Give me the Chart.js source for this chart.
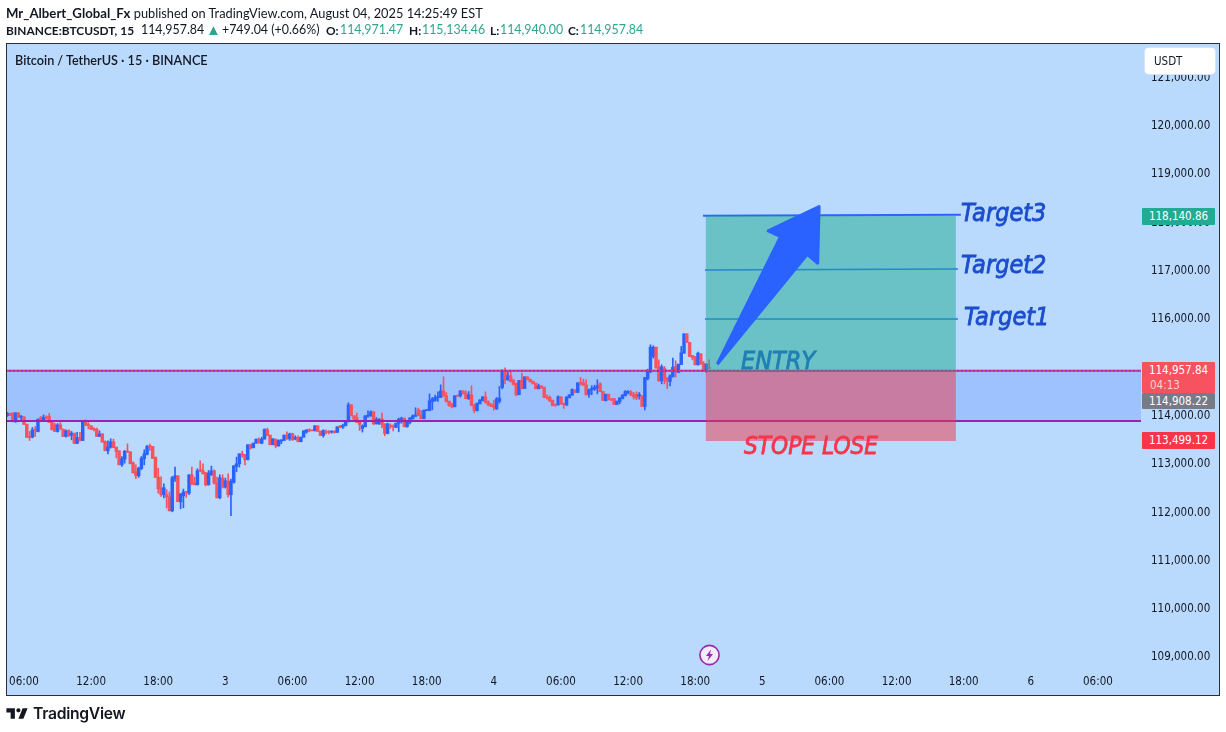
<!DOCTYPE html>
<html><head><meta charset="utf-8">
<script src="https://cdn.jsdelivr.net/npm/chart.js@4"></script>
<style>
html,body{margin:0;padding:0;background:#fff;width:1226px;height:732px;overflow:hidden}
#pane{position:absolute;left:6px;top:43px;width:1212px;height:651px;border:1px solid #2a2e39;background:#b9d9fd}
canvas{position:absolute;left:0;top:0}
.t{position:absolute;white-space:nowrap}
.hd{font:12.8px Lato,sans-serif;color:#131722;left:6px}
.hd b{font-weight:700}
.l2{font:12.4px Lato,sans-serif;color:#131722;top:22px}
b.l2{font-weight:700;font-size:11.9px;top:22.5px}
.g{color:#2fa58f}
.tag{position:absolute;left:1142px;width:73px;color:#fff;font:11.5px "DejaVu Sans Condensed",sans-serif;text-align:center;border-radius:1px}
.dr{font-family:"DejaVu Sans Condensed","DejaVu Sans",sans-serif;font-style:italic;font-weight:400;font-size:25px;-webkit-text-stroke:.8px currentColor}
</style></head><body>
<div id="pane"></div>
<canvas id="c" width="1226" height="732"></canvas>
<div class="t hd" style="top:5px"><b style="font-size:13.2px">Mr_Albert_Global_Fx</b> published on TradingView.com, August 04, 2025 14:25:49 EST</div>
<b class="t l2" style="left:6px">BINANCE:BTCUSDT, 15</b>
<span class="t l2" style="left:141px">114,957.84</span>
<span class="t l2 g" style="left:206px;font-size:15px;top:20px">▲</span>
<span class="t l2" style="left:222px">+749.04 (+0.66%)</span>
<b class="t l2" style="left:326px">O:</b><span class="t l2 g" style="left:340px">114,971.47</span>
<b class="t l2" style="left:409px">H:</b><span class="t l2 g" style="left:422px">115,134.46</span>
<b class="t l2" style="left:490px">L:</b><span class="t l2 g" style="left:500px">114,940.00</span>
<b class="t l2" style="left:568px">C:</b><span class="t l2 g" style="left:580px">114,957.84</span>
<div class="t" style="left:15px;top:53px;font:600 12.65px Lato,sans-serif;color:#131722">Bitcoin / TetherUS · 15 · BINANCE</div>
<div class="t" style="left:1145px;top:48px;width:70px;height:26px;background:#fff;border-radius:4px;box-shadow:0 0 0 1px #d6e4fb;font:11.5px 'DejaVu Sans Condensed',sans-serif;line-height:27px;text-indent:9px;color:#131722">USDT</div>
<div class="tag" style="top:208px;height:17px;line-height:17px;background:#22ab94">118,140.86</div>
<div class="tag" style="top:362px;height:31px;background:#f7525f;line-height:15px;padding-top:0"><div style="margin-top:1px">114,957.84</div><div style="text-align:left;padding-left:8px;color:#ffd0d4">04:13</div></div>
<div class="tag" style="top:393px;height:16px;line-height:16px;background:#787b86">114,908.22</div>
<div class="tag" style="top:432px;height:17px;line-height:17px;background:#f7364a">113,499.12</div>
<div class="t dr" style="left:961px;top:198px;color:#1b4dcc">Target3</div>
<div class="t dr" style="left:961px;top:250px;color:#1b4dcc">Target2</div>
<div class="t dr" style="left:964px;top:302px;color:#1b4dcc">Target1</div>
<div class="t dr" style="left:741px;top:346px;color:#1f7fb4">ENTRY</div>
<div class="t dr" style="left:744px;top:432px;color:#f5364a;font-size:24.2px">STOPE LOSE</div>
<svg class="t" style="left:698px;top:644px" width="23" height="23" viewBox="0 0 23 23"><circle cx="11.5" cy="11" r="9.6" fill="#f3ecfb" stroke="#9c27b0" stroke-width="1.6"/><path d="M13 5.5 8 12h3l-1.5 5 5.5-7h-3z" fill="#9c27b0"/></svg>
<svg class="t" style="left:5px;top:706px" width="24" height="15" viewBox="0 4 34 19"><path fill="#131722" d="M14 6H2v6h6v9h6V6Zm12 15h-7l6-15h7l-6 15Zm-7-9a3 3 0 1 0 0-6 3 3 0 0 0 0 6Z"/></svg>
<div class="t" style="left:33px;top:704px;font:600 15.7px Inter,sans-serif;color:#131722;letter-spacing:-.3px">TradingView</div>
<script>
const timeLabels=["06:00","12:00","18:00","3","06:00","12:00","18:00","4","06:00","12:00","18:00","5","06:00","12:00","18:00","6","06:00"];
const priceTicks=[109000,110000,111000,112000,113000,114000,115000,116000,117000,118000,119000,120000,121000];
const firstBar=-6;
const opens=[113973,114000,114035,113849,114035,113945,113952,113800,113531,113531,113683,113642,113938,113876,113945,113959,113855,113787,113649,113787,113697,113545,113669,113566,113614,113400,113524,113462,113835,113787,113766,113704,113697,113545,113600,113441,113248,113324,113435,113324,113248,112958,113076,113234,113228,113000,112814,112731,112883,113083,113172,113345,113338,113117,112703,112482,112338,112338,112296,112006,112676,112731,112193,112317,112400,112372,112752,112586,112545,112855,112834,112800,112545,112752,112834,112586,112275,112683,112496,112620,112338,112593,112924,112979,113186,113172,113062,113373,113310,113407,113490,113407,113490,113683,113573,113373,113490,113352,113448,113462,113573,113497,113600,113497,113517,
113435,113531,113635,113683,113676,113662,113766,113655,113566,113649,113649,113635,113649,113628,113759,113738,113766,113856,114200,113973,113931,113849,113711,113745,113966,113973,114056,113807,113807,113911,113807,113607,113773,113766,113731,113821,113876,113925,113745,113835,113911,113959,114097,113993,113911,114083,114083,114270,114290,114352,114352,114490,114387,114276,114200,114159,114394,114387,114490,114442,114325,114407,114200,114076,114221,114283,114366,114263,114221,114187,114118,114270,
114559,114904,114718,114801,114704,114649,114408,114704,114539,114780,114725,114690,114649,114532,114594,114566,114359,114359,114297,114207,114200,114366,114235,114200,114345,114401,114511,114456,114663,114656,114615,114415,114511,114525,114552,114635,114477,114283,114421,114318,114332,114207,114263,114325,114387,114456,114470,114415,114415,114380,114387,114166,114739,114877,115201,115394,114987,114697,114960,114753,114684,114787,114994,114870,115035,115270,115670,115491,115222,115201,115028,115256,115056,114925,114971];
const closes=[114028,113987,113849,114035,113938,113966,113793,113524,113524,113683,113669,113904,113855,113945,113925,113835,113683,113649,113787,113697,113545,113662,113559,113614,113400,113524,113462,113849,113773,113773,113690,113683,113545,113600,113428,113255,113324,113435,113317,113234,112958,113083,113241,113221,112979,112793,112731,112890,113097,113186,113338,113331,113090,112696,112462,112338,112482,112289,112006,112689,112731,112193,112358,112400,112386,112752,112565,112545,112834,112834,112772,112538,112786,112834,112579,112275,112689,112496,112627,112338,112620,112938,112979,113186,113159,113062,113373,113304,113407,113490,113407,113490,113697,113566,113373,113497,113352,113462,113476,113573,113490,113600,113476,113524,113435,
113531,113662,113683,113662,113662,113766,113649,113566,113669,113628,113628,113649,113628,113745,113738,113773,113856,114200,113973,113904,113835,113793,113766,113973,113980,114056,113807,113897,113904,113793,113607,113807,113752,113745,113821,113904,113925,113745,113856,113931,113973,113993,113980,113911,114090,114097,114283,114325,114352,114373,114490,114387,114270,114187,114159,114387,114380,114490,114428,114325,114407,114187,114083,114235,114304,114366,114249,114200,114166,114145,114325,114339,
114904,114718,114801,114677,114621,114408,114704,114532,114780,114718,114677,114635,114532,114594,114546,114352,114345,114283,114180,114194,114366,114214,114207,114359,114408,114518,114456,114656,114635,114608,114408,114511,114539,114566,114594,114470,114290,114421,114304,114297,114207,114276,114345,114401,114477,114470,114408,114373,114345,114415,114166,114766,114890,115394,115394,114960,114697,114987,114746,114684,114801,114980,114884,115042,115277,115670,115491,115201,115180,115028,115270,115042,114904,115042,114958];
const highs=[114042,114028,114035,114035,114035,113980,113952,113800,113649,113731,113752,113904,113959,113993,113973,114021,113855,113821,113814,113835,113697,113683,113683,113649,113614,113628,113628,113849,113890,113835,113766,113731,113718,113662,113600,113455,113455,113497,113490,113324,113248,113131,113255,113393,113228,113021,112958,112910,113131,113269,113359,113386,113338,113117,112890,112710,112565,112441,112400,112717,112910,112731,112358,112455,112400,112752,112910,112703,112876,113041,112979,112800,112841,112931,112855,112703,112752,112752,112683,112772,112662,112938,113117,113186,113241,113172,113373,113386,113407,113490,113517,113531,113697,113718,113573,113497,113490,113476,113476,113573,113642,113614,113614,113559,113559,
113531,113662,113683,113704,113676,113766,113766,113655,113683,113683,113669,113662,113669,113745,113773,113800,113856,114242,114200,113973,114028,113849,113787,113973,114076,114076,114056,113938,113911,114028,113807,113821,113807,113787,113821,113925,113945,113925,113856,113938,113993,114138,114131,114083,114090,114097,114428,114352,114400,114470,114614,114780,114456,114276,114235,114387,114400,114490,114490,114490,114476,114594,114214,114235,114304,114366,114470,114283,114221,114297,114352,114580,
114925,114966,114890,114911,114732,114649,114704,114856,114780,114780,114739,114690,114649,114628,114594,114566,114408,114387,114297,114207,114387,114366,114235,114373,114408,114532,114511,114656,114766,114732,114718,114525,114594,114608,114718,114663,114477,114421,114421,114332,114332,114276,114345,114415,114497,114497,114497,114456,114470,114456,114387,114766,114939,115442,115422,115394,115132,115028,114994,114766,114822,115167,115111,115042,115408,115670,115670,115491,115222,115201,115291,115256,115097,115056,115134];
const lows=[113959,113973,113849,113835,113938,113890,113793,113524,113462,113517,113545,113642,113849,113855,113904,113835,113683,113649,113635,113697,113545,113531,113545,113476,113400,113400,113448,113462,113766,113704,113690,113662,113545,113545,113428,113248,113186,113304,113310,113103,112958,112924,112993,113214,112979,112786,112669,112696,112855,112958,113165,113255,113090,112696,112372,112303,112275,112062,112000,111986,112614,112193,112048,112068,112282,112338,112545,112538,112538,112814,112772,112524,112538,112738,112558,112275,112255,112476,112476,112289,111903,112579,112814,112910,113117,112958,113062,113283,113310,113407,113407,113393,113490,113559,113373,113373,113310,113338,113393,113462,113490,113462,113462,113476,113435,
113435,113531,113614,113642,113662,113662,113649,113566,113531,113600,113600,113614,113614,113628,113724,113711,113766,113842,113973,113869,113835,113669,113635,113745,113938,113959,113787,113800,113793,113724,113559,113600,113711,113662,113731,113642,113821,113745,113738,113807,113904,113959,113980,113911,113911,114076,114076,114097,114270,114270,114352,114373,114256,114166,114138,114159,114373,114359,114428,114325,114311,114180,114035,114076,114221,114283,114235,114180,114166,114090,114104,114235,
114532,114635,114704,114677,114608,114387,114408,114532,114539,114718,114670,114635,114532,114532,114546,114352,114318,114263,114180,114166,114194,114214,114125,114180,114345,114394,114456,114456,114608,114601,114401,114352,114408,114497,114428,114470,114290,114283,114304,114290,114207,114207,114221,114325,114387,114428,114387,114318,114304,114318,114166,114097,114718,114870,115167,114960,114684,114635,114635,114539,114594,114773,114773,114870,115035,115270,115491,115201,115132,115028,115028,115042,114890,114870,114940];
const entryPrice=114904, lowerBandPrice=113865;
const zoneLeftBar=243.8, zoneRightBar=333.2, zoneTop=118116, zoneStop=113451;
const target3Bars=[242.8,335.0], target3Prices=[118116,118137];
const target2Bars=[243.5,333.9], target2Prices=[116992,117013];
const target1Bars=[243.5,333.9], target1Prices=[115978,115978];
const arrowBars=[247.9,270.5,266.1,284.3,283.8,280.1,247.9];
const arrowPrices=[115040,117682,117800,118303,117131,117317,115040];
const axisMinBar=-6.08, axisMaxBar=399.4, axisMinPrice=108751, axisMaxPrice=121671;

const up='#2962ff', down='#f7525f';
const xs=opens.map((_,i)=>i+firstBar);
const colors=opens.map((o,i)=>closes[i]>=o?up:down);
const body=xs.map((x,i)=>({x,y:[opens[i],closes[i]]}));
const wick=xs.map((x,i)=>({x,y:[lows[i],highs[i]]}));
const pts=(a,b)=>a.map((x,i)=>({x,y:b[i]}));
const lineDs=(data,color,width,order,extra)=>Object.assign({type:'line',data,borderColor:color,borderWidth:width,pointRadius:0,tension:0,order,fill:false},extra||{});
const shape=(left,right,top,bottom,fillc,order)=>lineDs(pts([left,right,right,left,left],[top,top,bottom,bottom,top]),'rgba(0,0,0,0)',0,order,{fill:'shape',backgroundColor:fillc});

new Chart(document.getElementById('c'),{
 type:'bar',
 data:{datasets:[
  shape(axisMinBar,axisMaxBar,entryPrice,lowerBandPrice,'rgba(41,98,255,.19)',9),
  {type:'bar',data:wick,backgroundColor:colors,barThickness:1,grouped:false,order:8,borderWidth:0},
  {type:'bar',data:body,backgroundColor:colors,barThickness:2.8,grouped:false,order:7,borderWidth:0,minBarLength:1},
  lineDs(pts([axisMinBar,axisMaxBar],[entryPrice,entryPrice]),'#9c27b0',2,6),
  lineDs(pts([axisMinBar,axisMaxBar],[lowerBandPrice,lowerBandPrice]),'#a021b0',2,6),
  lineDs(pts([axisMinBar,axisMaxBar],[entryPrice,entryPrice]),'#f7525f',1,5,{borderDash:[2,2]}),
  lineDs(pts(target3Bars,target3Prices),'#2962ff',2,4.5),
  lineDs(pts(target2Bars,target2Prices),'#2962ff',1.6,4.5),
  lineDs(pts(target1Bars,target1Prices),'#2962ff',1.6,4.5),
  shape(zoneLeftBar,zoneRightBar,zoneTop,entryPrice,'rgba(34,171,148,.52)',4),
  shape(zoneLeftBar,zoneRightBar,entryPrice,zoneStop,'rgba(242,54,69,.5)',4),
  lineDs(pts(arrowBars,arrowPrices),'#2962ff',3,1,{fill:'shape',backgroundColor:'#2962ff',borderJoinStyle:'round'})
 ]},
 options:{
  responsive:false,animation:false,devicePixelRatio:1,
  layout:{padding:{left:7,top:44,right:7,bottom:37}},
  plugins:{legend:{display:false},tooltip:{enabled:false}},
  scales:{
   x:{type:'linear',min:axisMinBar,max:axisMaxBar,offset:false,
      grid:{display:false,drawTicks:false},border:{display:false},
      afterFit(s){s.height=27},
      ticks:{stepSize:24,includeBounds:false,autoSkip:false,maxRotation:0,padding:7,color:'#131722',
        font:{family:'"DejaVu Sans Condensed"',size:11.5},
        callback:v=>timeLabels[Math.round(v/24)]}},
   y:{type:'linear',position:'right',min:axisMinPrice,max:axisMaxPrice,
      grid:{display:false,drawTicks:false},border:{display:false},
      afterFit(s){s.width=78},
      afterBuildTicks(s){s.ticks=priceTicks.map(value=>({value}))},
      ticks:{includeBounds:false,padding:10,labelOffset:1.5,color:'#131722',
        font:{family:'"DejaVu Sans Condensed"',size:11.5},
        callback:v=>v.toLocaleString('en-US',{minimumFractionDigits:2,maximumFractionDigits:2})}}
  }
 }
});
</script>
</body></html>
